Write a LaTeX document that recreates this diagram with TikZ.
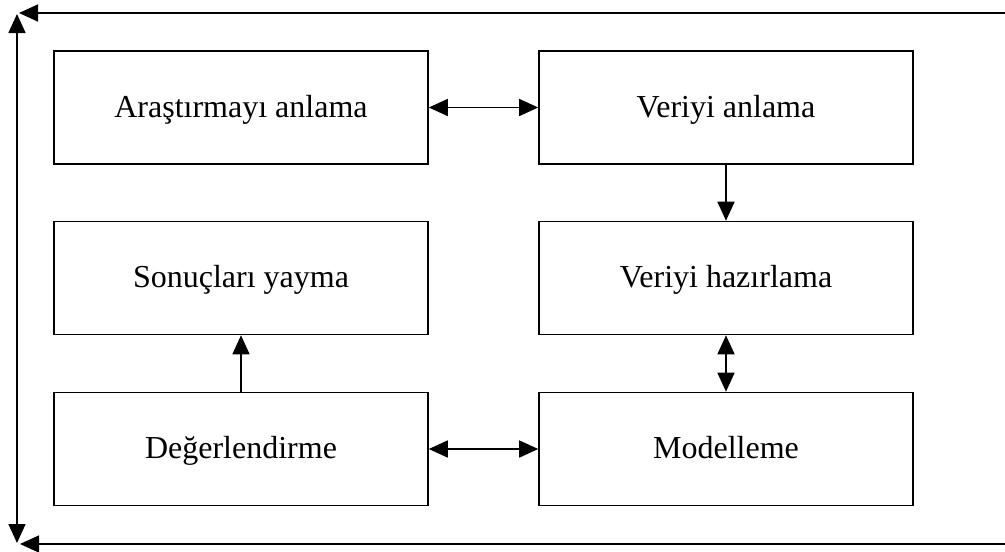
\documentclass[tikz,border=0pt]{standalone}
\usepackage{fontspec}
\setmainfont{Liberation Serif}
\usetikzlibrary{arrows.meta}
\begin{document}
\begin{tikzpicture}[x=1pt,y=-1pt,
  phase/.style={draw, line width=1.6pt, minimum width=374pt, minimum height=113pt,
    inner sep=0pt, text height=26pt, text depth=7pt, font=\fontsize{32}{38}\selectfont},
  tip/.style={Triangle[length=19pt,width=17pt]},
  link/.style={line width=1.6pt, -{Triangle[length=19pt,width=17pt]}},
  dlink/.style={line width=1.6pt, {Triangle[length=19pt,width=17pt]}-{Triangle[length=19pt,width=17pt]}}]
\useasboundingbox (0,0) rectangle (1005,552);
% phases of the process
\node[phase] (bus)  at (241,107.5) {Araştırmayı anlama};
\node[phase] (data) at (726,107.5) {Veriyi anlama};
\node[phase] (prep) at (726,278)   {Veriyi hazırlama};
\node[phase] (depl) at (241,278)   {Sonuçları yayma};
\node[phase] (eval) at (241,449)   {Değerlendirme};
\node[phase] (mod)  at (726,449)   {Modelleme};
% links between phases
\draw[dlink] (bus) -- (data);
\draw[link] (data) -- (prep);
\draw[dlink] (prep) -- (mod);
\draw[dlink] (eval) -- (mod);
\draw[link] (eval) -- (depl);
% outer cycle
\coordinate (tr) at (1005,13);
\coordinate (tl) at (19,13);
\coordinate (lt) at (17,14);
\coordinate (lb) at (17,543);
\coordinate (br) at (1005,544);
\coordinate (bl) at (20,544);
\draw[link] (tr) -- (tl);
\draw[dlink] (lb) -- (lt);
\draw[link] (br) -- (bl);
\end{tikzpicture}
\end{document}
